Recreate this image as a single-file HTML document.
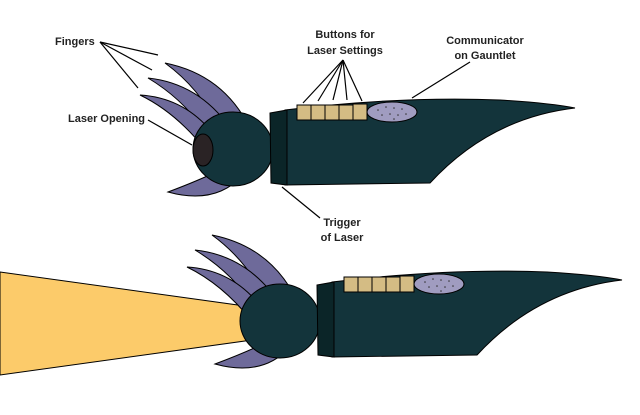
<!DOCTYPE html>
<html><head><style>
body{margin:0;background:#fff;width:640px;height:415px;overflow:hidden}
svg{display:block}
text{font-family:"Liberation Sans",sans-serif;font-weight:bold;font-size:11px;fill:#222}
</style></head><body>
<svg width="640" height="415" viewBox="0 0 640 415">
<defs>
<g id="g">
 <path d="M165,63 Q230,76 255,140 L224,140 Q205,92 165,63 Z" fill="#6e6a9a" stroke="#000" stroke-width="1"/>
 <path d="M148,78 Q205,84 238,140 L212,142 Q188,102 148,78 Z" fill="#6e6a9a" stroke="#000" stroke-width="1"/>
 <path d="M140,95 Q190,98 220,143 L204,148 Q175,112 140,95 Z" fill="#6e6a9a" stroke="#000" stroke-width="1"/>
 <path d="M168,192 Q200,180 220,170 L242,176 Q215,205 168,192 Z" fill="#6e6a9a" stroke="#000" stroke-width="1"/>
 <path d="M285,110 Q400,96 500,100 Q550,103 575,108 Q490,118 430,183 L285,185 Z" fill="#13343b" stroke="#000" stroke-width="1"/>
 <ellipse cx="233" cy="149" rx="40" ry="37" fill="#13343b" stroke="#000" stroke-width="1"/>
 <path d="M270,113 L287,110 L287,185 L271,183 Z" fill="#0b2528" stroke="#000" stroke-width="1"/>
 <g fill="#d4bc84" stroke="#000" stroke-width="1">
  <rect x="297" y="105" width="14" height="15"/><rect x="311" y="105" width="14" height="15"/>
  <rect x="325" y="105" width="14" height="15"/><rect x="339" y="105" width="14" height="15"/>
  <rect x="353" y="104" width="14" height="16"/>
 </g>
 <ellipse cx="392" cy="112" rx="25" ry="10" fill="#a09cc0" stroke="#000" stroke-width="1"/>
 <g fill="#333"><circle cx="378" cy="110" r="0.8"/><circle cx="386" cy="107" r="0.8"/><circle cx="394" cy="108" r="0.8"/><circle cx="402" cy="109" r="0.8"/><circle cx="382" cy="115" r="0.8"/><circle cx="390" cy="114" r="0.8"/><circle cx="398" cy="115" r="0.8"/><circle cx="406" cy="114" r="0.8"/><circle cx="394" cy="119" r="0.8"/></g>
</g>
</defs>
<use href="#g"/>
<ellipse cx="203" cy="150" rx="10" ry="16" fill="#2a2325" stroke="#000" stroke-width="1"/>
<path d="M0,272 L252,307 Q262,323 252,340 L0,375 Z" fill="#fccb6a" stroke="#000" stroke-width="1"/>
<use href="#g" transform="translate(47,172)"/>
<g stroke="#000" stroke-width="1.2">
 <line x1="100" y1="42" x2="158" y2="55"/><line x1="100" y1="42" x2="152" y2="70"/><line x1="100" y1="42" x2="138" y2="88"/>
 <line x1="343" y1="60" x2="303" y2="103"/><line x1="343" y1="60" x2="318" y2="101"/><line x1="343" y1="60" x2="333" y2="100"/><line x1="343" y1="60" x2="347" y2="100"/><line x1="343" y1="60" x2="362" y2="101"/>
 <line x1="470" y1="62" x2="412" y2="98"/>
 <line x1="148" y1="120" x2="192" y2="145"/>
 <line x1="282" y1="187" x2="320" y2="218"/>
</g>
<text x="55" y="45">Fingers</text>
<text x="345" y="38" text-anchor="middle">Buttons for</text>
<text x="345" y="54" text-anchor="middle">Laser Settings</text>
<text x="485" y="44" text-anchor="middle">Communicator</text>
<text x="485" y="59" text-anchor="middle">on Gauntlet</text>
<text x="68" y="122">Laser Opening</text>
<text x="342" y="226" text-anchor="middle">Trigger</text>
<text x="342" y="241" text-anchor="middle">of Laser</text>
</svg>
</body></html>
